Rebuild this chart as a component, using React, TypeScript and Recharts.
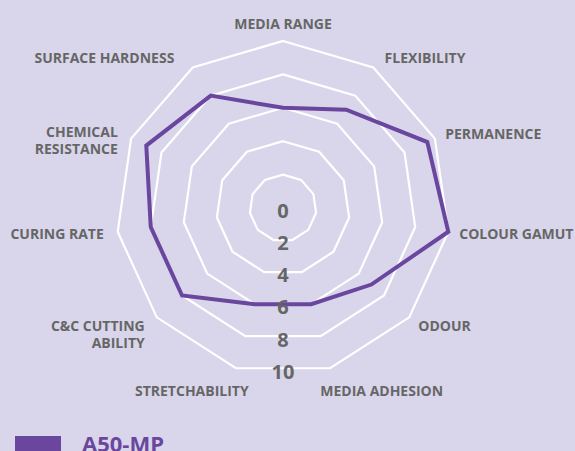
import React from "react";
import { Legend, PolarAngleAxis, PolarGrid, PolarRadiusAxis, Radar, RadarChart } from "recharts";

const categories = [
  "MEDIA RANGE",
  "FLEXIBILITY",
  "PERMANENCE",
  "COLOUR GAMUT",
  "ODOUR",
  "MEDIA ADHESION",
  "STRETCHABILITY",
  "C&C CUTTING\nABILITY",
  "CURING RATE",
  "CHEMICAL\nRESISTANCE",
  "SURFACE HARDNESS",
];
const a50mp = [6, 7, 9.5, 10, 7, 6, 6, 8, 8, 9, 8];
const radiusTicks = [0, 2, 4, 6, 8, 10];
const seriesName = "A50-MP";

const data = categories.map((c, i) => ({ subject: c, value: a50mp[i] }));

const PURPLE = "#6a469e";
const GRAY = "#666666";
const BG = "#d9d6eb";
const FONT = "'Open Sans', sans-serif";

const CX = 283;
const CY = 208;

function AngleTick(props: any) {
  const { x, y, textAnchor, payload } = props;
  const lines: string[] = String(payload.value).split("\n");
  let dx = 0;
  let dy = ((y - CY) / 175) * 4;
  if (textAnchor === "start") dx = 3;
  if (textAnchor === "end") dx = -6;
  if (textAnchor === "middle") dy = -10;
  if (lines.length > 1 && y < CY) dy -= 2;
  // upper diagonal labels sit a bit further out
  if (textAnchor !== "middle" && y - CY < -120) {
    dx = textAnchor === "start" ? 7 : -14;
  }
  // labels near the bottom sit lower and pull in toward the middle
  if (y - CY > 150) {
    dy = 15;
    dx = textAnchor === "start" ? -12 : 15;
  }
  const lh = 17;
  const top = y + dy;
  return (
    <text
      x={x + dx}
      y={top}
      textAnchor={textAnchor}
      fill={GRAY}
      fontSize={14}
      fontWeight={700}
      fontFamily={FONT}
    >
      {lines.map((l, i) => (
        <tspan key={i} x={x + dx} y={top + i * lh} dominantBaseline="central">
          {l}
        </tspan>
      ))}
    </text>
  );
}

function RadiusTick(props: any) {
  const { x, y, payload } = props;
  // labels creep slightly inward of the rings they mark
  const ty = y + 2 - (y - CY) * 0.033;
  return (
    <text
      x={x}
      y={ty}
      textAnchor="middle"
      dominantBaseline="central"
      fill={GRAY}
      fontSize={20}
      fontWeight={700}
      fontFamily={FONT}
    >
      {payload.value}
    </text>
  );
}

function LegendContent() {
  return (
    <div style={{ display: "flex", alignItems: "flex-start", fontFamily: FONT }}>
      <span style={{ display: "inline-block", width: 46, height: 16, background: PURPLE, marginTop: 4 }} />
      <span
        style={{ color: PURPLE, fontWeight: 700, fontSize: 22, lineHeight: "22px", marginLeft: 21 }}
      >
        {seriesName}
      </span>
    </div>
  );
}

export default function App() {
  return (
    <div
      style={{ position: "fixed", left: 0, top: 0, width: 575, height: 451, background: BG, overflow: "hidden" }}
    >
      <RadarChart
        width={575}
        height={451}
        data={data}
        cx={CX}
        cy={CY}
        outerRadius={167}
        startAngle={90}
        endAngle={-270}
        margin={{ top: 0, right: 0, bottom: 0, left: 0 }}
      >
        <PolarGrid gridType="polygon" radialLines={false} stroke="#ffffff" strokeWidth={2.2} />
        <PolarAngleAxis dataKey="subject" tick={<AngleTick />} axisLine={false} tickLine={false} />
        <PolarRadiusAxis
          angle={-90}
          domain={[0, 10]}
          ticks={radiusTicks}
          tick={<RadiusTick />}
          axisLine={false}
          tickLine={false}
        />
        <Radar
          name={seriesName}
          dataKey="value"
          stroke={PURPLE}
          strokeWidth={4}
          fill="none"
          fillOpacity={0}
          dot={false}
          isAnimationActive={false}
        />
        <Legend content={<LegendContent />} wrapperStyle={{ position: "absolute", left: 15, top: 432, width: 300 }} />
      </RadarChart>
    </div>
  );
}
